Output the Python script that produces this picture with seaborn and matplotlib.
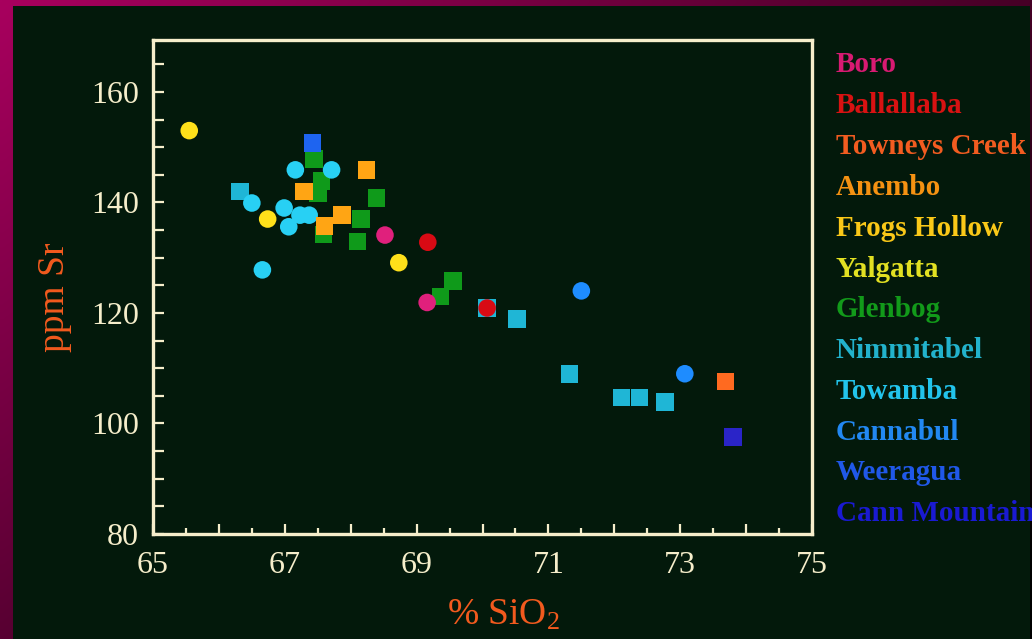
import numpy as np
import pandas as pd
import matplotlib
matplotlib.use("Agg")
import matplotlib.pyplot as plt
from matplotlib.patches import Rectangle
from matplotlib.ticker import MultipleLocator, FixedLocator, FuncFormatter
import seaborn as sns

# ---------------- data ----------------
plutons = ["Boro", "Ballallaba", "Towneys Creek", "Anembo", "Frogs Hollow",
           "Yalgatta", "Glenbog", "Nimmitabel", "Towamba", "Cannabul",
           "Weeragua", "Cann Mountain"]

boro_x = [68.52, 69.16]
boro_y = [134.1, 121.9]
ballallaba_x = [69.17, 70.07]
ballallaba_y = [132.8, 120.9]
towneys_x = [73.69]
towneys_y = [107.6]
anembo_x = [68.24, 67.29, 67.87, 67.60]
anembo_y = [145.9, 142.0, 137.7, 135.7]
frogs_x = [65.55, 66.74, 68.73]
frogs_y = [153.0, 137.0, 129.1]
glenbog_x = [67.44, 67.56, 67.50, 68.39, 68.16, 68.10, 67.59, 69.55, 69.36]
glenbog_y = [147.9, 143.9, 141.6, 140.8, 137.0, 132.9, 134.2, 125.8, 122.95]
nimmitabel_x = [66.32, 70.52, 71.32, 72.11, 72.38, 72.77, 70.07]
nimmitabel_y = [142.0, 118.9, 109.0, 104.7, 104.7, 103.9, 120.9]
towamba_x = [67.16, 67.71, 66.50, 66.99, 67.06, 67.23, 67.37, 66.66]
towamba_y = [145.9, 145.9, 139.9, 139.0, 135.6, 137.7, 137.7, 127.8]
cannabul_x = [71.50, 73.07]
cannabul_y = [124.0, 109.0]
weeragua_x = [67.42]
weeragua_y = [150.8]
cannmtn_x = [73.80]
cannmtn_y = [97.6]

x_ticklabels = ["65", "67", "69", "71", "73", "75"]
y_ticklabels = ["80", "100", "120", "140", "160"]

# drawing order (later = on top)
series = [
    ("Glenbog", glenbog_x, glenbog_y),
    ("Nimmitabel", nimmitabel_x, nimmitabel_y),
    ("Towamba", towamba_x, towamba_y),
    ("Anembo", anembo_x, anembo_y),
    ("Weeragua", weeragua_x, weeragua_y),
    ("Towneys Creek", towneys_x, towneys_y),
    ("Cann Mountain", cannmtn_x, cannmtn_y),
    ("Cannabul", cannabul_x, cannabul_y),
    ("Frogs Hollow", frogs_x, frogs_y),
    ("Boro", boro_x, boro_y),
    ("Ballallaba", ballallaba_x, ballallaba_y),
]

rows = []
for name, xs, ys in series:
    for xv, yv in zip(xs, ys):
        rows.append({"pluton": name, "SiO2": xv, "Sr": yv})
df = pd.DataFrame(rows)

point_colors = {
    "Boro": "#e0207c", "Ballallaba": "#d80a14", "Towneys Creek": "#ff6a20",
    "Anembo": "#ffa514", "Frogs Hollow": "#ffe01a", "Yalgatta": "#e8e82a",
    "Glenbog": "#0f9a1a", "Nimmitabel": "#1fb6d6", "Towamba": "#28d0f4",
    "Cannabul": "#1e8cff", "Weeragua": "#1e64f0", "Cann Mountain": "#2a24c8",
}
markers = {
    "Boro": "o", "Ballallaba": "o", "Towneys Creek": "s", "Anembo": "s",
    "Frogs Hollow": "o", "Yalgatta": "o", "Glenbog": "s", "Nimmitabel": "s",
    "Towamba": "o", "Cannabul": "o", "Weeragua": "s", "Cann Mountain": "s",
}
text_colors = ["#d81a72", "#d81212", "#f25c20", "#f59212", "#fac818",
               "#e2e022", "#129a1a", "#22b2cc", "#22c4ec", "#2288f2",
               "#2058e8", "#1a1ad2"]

# ---------------- style ----------------
BG = "#03190b"
CREAM = "#f6eecb"
sns.set_style("dark")
plt.rcParams["font.family"] = ["Liberation Serif", "DejaVu Serif"]
plt.rcParams["mathtext.fontset"] = "custom"
plt.rcParams["mathtext.rm"] = "Liberation Serif"
plt.rcParams["mathtext.it"] = "Liberation Serif:italic"

W, H = 1032, 639
fig = plt.figure(figsize=(W / 100, H / 100), dpi=100)

# background with magenta gradient frame
bg = fig.add_axes([0, 0, 1, 1])
bg.set_axis_off()
u = np.linspace(0, 1, 206)[None, :, None]
v = np.linspace(0, 1, 128)[:, None, None]
c0 = np.array([168, 0, 94]) / 255
cR = np.array([70, 0, 38]) / 255
cB = np.array([88, 0, 50]) / 255
img = np.clip(c0 + (cR - c0) * u + (cB - c0) * v, 0, 1)
bg.imshow(img, extent=[0, 1, 0, 1], aspect="auto", origin="upper",
          interpolation="bilinear")
bg.add_patch(Rectangle((13 / W, 0), 1 - 13 / W - 2 / W, 1 - 6 / H,
                       transform=bg.transAxes, facecolor=BG, edgecolor="none"))
bg.set_xlim(0, 1)
bg.set_ylim(0, 1)

ax = fig.add_axes([153 / W, 1 - 534 / H, (812 - 153) / W, (534 - 40) / H])
ax.set_facecolor(BG)

sns.scatterplot(data=df, x="SiO2", y="Sr", hue="pluton", style="pluton",
                palette=point_colors, markers=markers, s=160, linewidth=0,
                legend=False, ax=ax, zorder=3)

ax.set_xlim(65, 75)
ax.set_ylim(80, 169.4)
ax.grid(False)

for sp in ax.spines.values():
    sp.set_visible(True)
    sp.set_color(CREAM)
    sp.set_linewidth(2.4)

ax.xaxis.set_major_locator(MultipleLocator(1))
ax.xaxis.set_minor_locator(MultipleLocator(0.5))
xlab_map = {int(t): t for t in x_ticklabels}
ax.xaxis.set_major_formatter(FuncFormatter(
    lambda val, pos: xlab_map.get(int(round(val)), "") if abs(val - round(val)) < 1e-6 else ""))
ax.yaxis.set_major_locator(FixedLocator([int(t) for t in y_ticklabels]))
ax.set_yticklabels(y_ticklabels)
ax.yaxis.set_minor_locator(MultipleLocator(5))

ax.tick_params(axis="both", which="both", direction="in", colors=CREAM,
               width=1.6, labelsize=23, bottom=True, left=True, top=False, right=False)
ax.tick_params(axis="x", which="major", length=7.5, pad=12)
ax.tick_params(axis="x", which="minor", length=4.5)
ax.tick_params(axis="y", which="major", length=8, pad=10)
ax.tick_params(axis="y", which="minor", length=8)
for lab in ax.get_xticklabels() + ax.get_yticklabels():
    lab.set_color(CREAM)

ax.set_xlabel("% SiO$_2$", fontsize=27, color="#f25a1e", va="center")
ax.xaxis.set_label_coords((503 - 153) / 659, (534 - 615) / 494)
ax.set_ylabel("ppm Sr", fontsize=27, color="#f25a1e", va="center")
ax.yaxis.set_label_coords((55 - 153) / 659, (534 - 297) / 494)

# colored name list on the right
for i, (name, col) in enumerate(zip(plutons, text_colors)):
    yy = 65 + i * 40.8
    fig.text(836 / W, 1 - yy / H, name, color=col, fontsize=21,
             fontweight="bold", ha="left", va="center")

fig.savefig("out.png", dpi=100, facecolor=fig.get_facecolor())
